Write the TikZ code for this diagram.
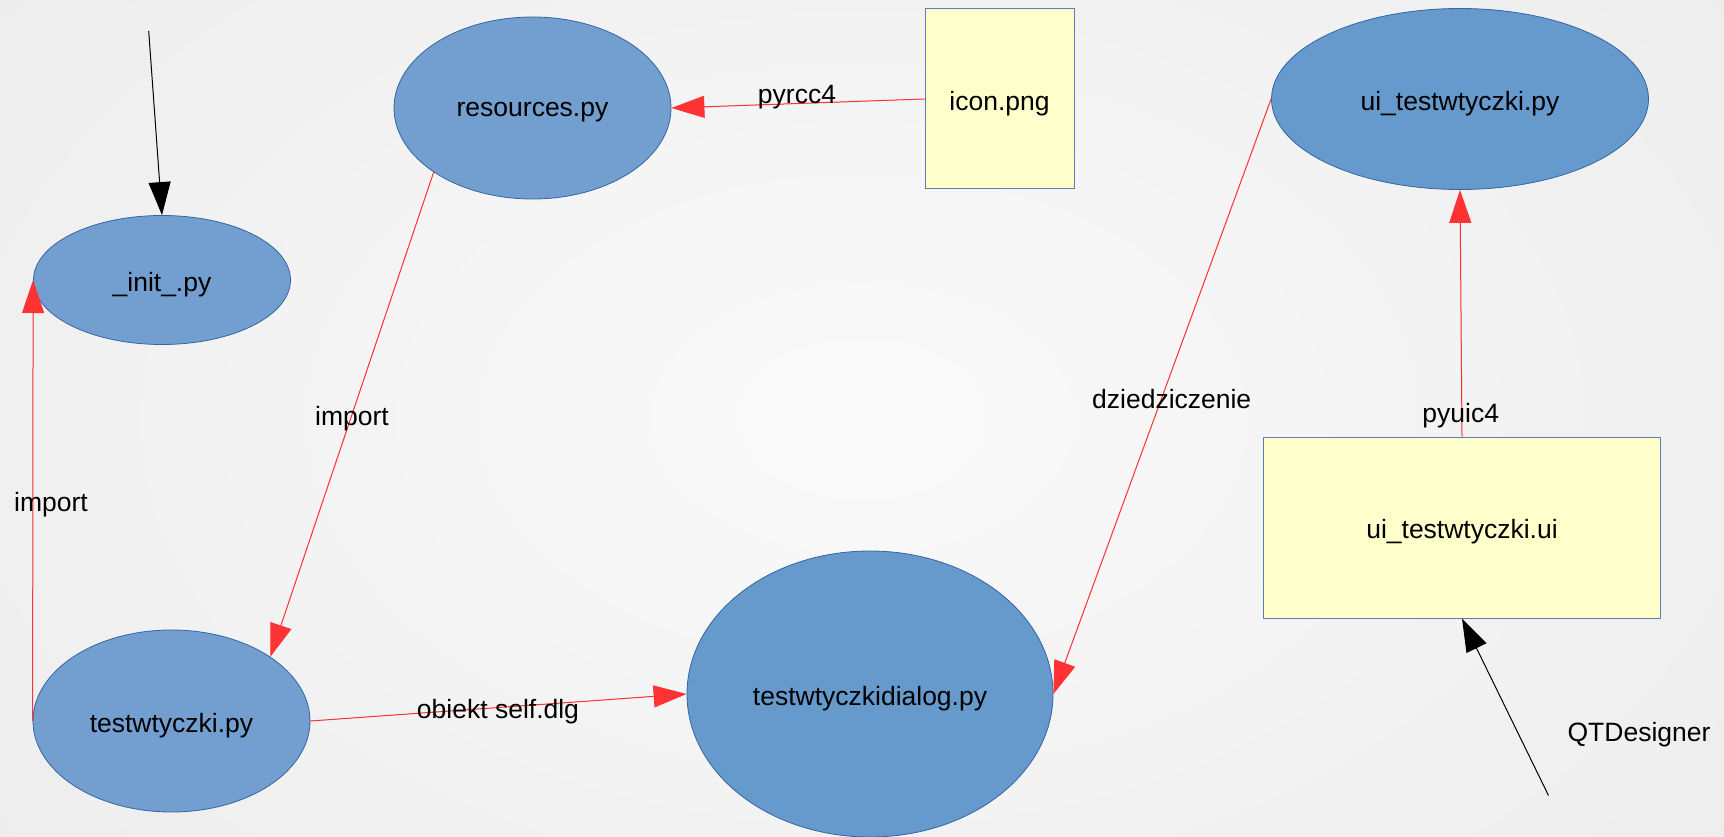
\documentclass[tikz,border=0pt]{standalone}
\usepackage{fontspec}
\setmainfont{Liberation Sans}
\usetikzlibrary{arrows.meta,shapes.geometric}
\definecolor{bluefillA}{HTML}{729FCF}
\definecolor{bluefillB}{HTML}{6699CC}
\definecolor{blueedge}{HTML}{3465A4}
\definecolor{yellowfill}{HTML}{FFFFCC}
\definecolor{rectedge}{HTML}{5B7FB5}
\definecolor{redline}{HTML}{FF3333}
\definecolor{bgin}{HTML}{FAFAFA}
\definecolor{bgout}{HTML}{EAEAEA}
\newcommand{\lowtxt}[1]{\raisebox{-4.5pt}[\height][\depth]{#1}}
\begin{document}
\begin{tikzpicture}[x=1pt,y=-1pt,
  every node/.style={font=\fontsize{26.5}{30}\selectfont, inner sep=0pt},
  ell/.style={ellipse, draw=blueedge, line width=0.8pt, fill=#1},
  filebox/.style={rectangle, draw=rectedge, line width=1pt, fill=yellowfill},
  redarrow/.style={draw=redline, line width=1pt, -{Triangle[length=33pt,width=22pt]}, fill=redline},
  blackarrow/.style={draw=black, line width=1pt, -{Triangle[length=33pt,width=22pt]}},
  lbl/.style={text=black}
]
\useasboundingbox (0,0) rectangle (1724,837);
\shade[inner color=bgin, outer color=bgout] (-500,-450) rectangle (2224,1287);

% nodes
\node[ell=bluefillA, minimum width=257pt, minimum height=129pt] (init) at (162,280) {\lowtxt{\_init\_.py}};
\node[ell=bluefillA, minimum width=277pt, minimum height=182pt] (res) at (532.5,108) {\lowtxt{resources.py}};
\node[ell=bluefillA, minimum width=277pt, minimum height=182pt] (tw) at (171.5,721) {\lowtxt{testwtyczki.py}};
\node[ell=bluefillB, minimum width=366pt, minimum height=286pt] (dlg) at (870,694) {\lowtxt{testwtyczkidialog.py}};
\node[ell=bluefillB, minimum width=377pt, minimum height=181pt] (uipy) at (1460,99) {\lowtxt{ui\_testwtyczki.py}};
\node[filebox, minimum width=149pt, minimum height=180pt] (icon) at (999.5,99) {\lowtxt{icon.png}};
\node[filebox, minimum width=397pt, minimum height=181pt] (ui) at (1462,527.5) {\lowtxt{ui\_testwtyczki.ui}};

\coordinate (topsrc) at (148.7,31);
\coordinate (qtsrc) at (1548.5,795.5);

% connectors
\draw[blackarrow] (topsrc) -- (init.north);
\draw[redarrow] (tw.west) -- (init.west);
\draw[redarrow] (res.213.4) -- (tw.33.6);
\draw[redarrow] (icon.west) -- (res.east);
\draw[redarrow] (tw.east) -- (dlg.west);
\draw[redarrow] (uipy.west) -- (dlg.east);
\draw[redarrow] (ui.north) -- (uipy.south);
\draw[blackarrow] (qtsrc) -- (ui.south);

% labels
\node[lbl] (limp1) at (51,505) {import};
\node[lbl] (limp2) at (352,419) {import};
\node[lbl] (lpyrcc) at (797,97.5) {pyrcc4};
\node[lbl] (lobj) at (498,712) {obiekt self.dlg};
\node[lbl] (ldzie) at (1171.7,399) {dziedziczenie};
\node[lbl] (lpyuic) at (1460.7,416) {pyuic4};
\node[lbl] (lqt) at (1639,735) {QTDesigner};
\end{tikzpicture}
\end{document}
